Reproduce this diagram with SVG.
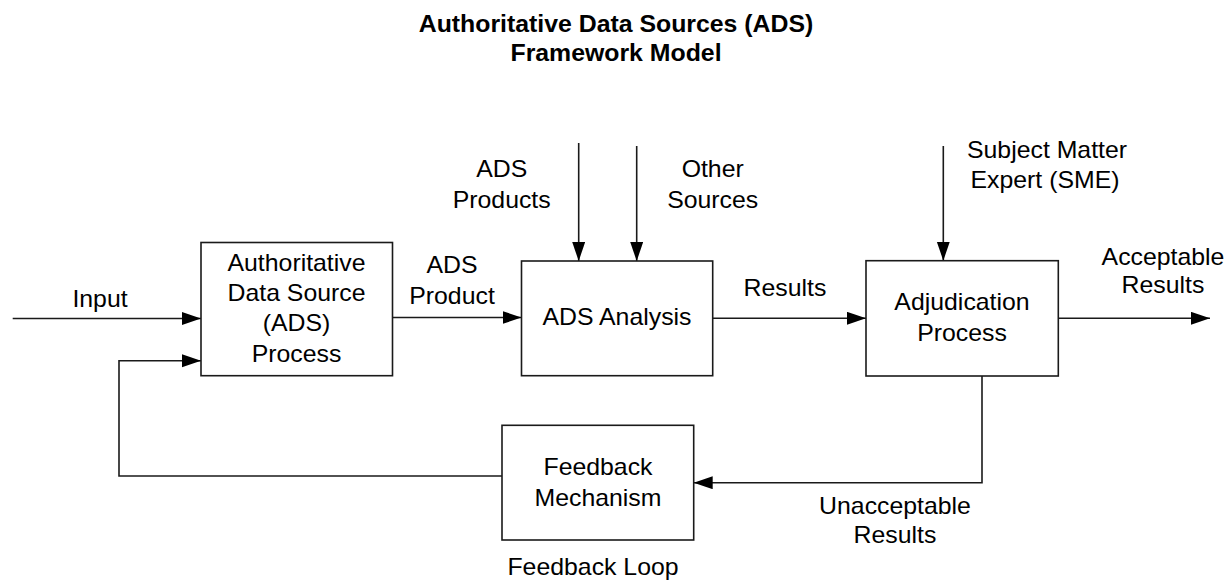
<svg xmlns="http://www.w3.org/2000/svg" width="1232" height="580" viewBox="0 0 1232 580">
  <style>
    .box { fill: #ffffff; stroke: #1a1a1a; stroke-width: 1.6; }
    .conn { fill: none; stroke: #1a1a1a; stroke-width: 1.6; }
    text { font-family: "Liberation Sans", Arial, sans-serif; font-size: 23px; fill: #000000; text-anchor: middle; }
    .title { font-weight: bold; }
  </style>
  <defs>
    <marker id="arrow" markerUnits="userSpaceOnUse" markerWidth="20" markerHeight="14" refX="19" refY="6.5" orient="auto">
      <path d="M0,0 L19,6.5 L0,13 Z" fill="#000000"/>
    </marker>
  </defs>
  <rect width="1232" height="580" fill="#ffffff"/>

  <g id="title">
    <text class="title" transform="translate(616,32) scale(1.08,1)" x="0" y="0">Authoritative Data Sources (ADS)</text>
    <text class="title" transform="translate(616,61) scale(1.08,1)" x="0" y="0">Framework Model</text>
  </g>

  <g id="connectors">
    <path class="conn" d="M12.7,318.5 H201" marker-end="url(#arrow)"/>
    <path class="conn" d="M502,476 H119 V360.7 H201" marker-end="url(#arrow)"/>
    <path class="conn" d="M392.5,317.5 H521.5" marker-end="url(#arrow)"/>
    <path class="conn" d="M578.7,143 V261" marker-end="url(#arrow)"/>
    <path class="conn" d="M636.7,146 V261" marker-end="url(#arrow)"/>
    <path class="conn" d="M712.7,318.3 H866" marker-end="url(#arrow)"/>
    <path class="conn" d="M943.3,146 V260.7" marker-end="url(#arrow)"/>
    <path class="conn" d="M1058.3,318.3 H1210" marker-end="url(#arrow)"/>
    <path class="conn" d="M982,376 V482.7 H693.7" marker-end="url(#arrow)"/>
  </g>

  <g id="connector-labels">
    <text transform="translate(100,306.7) scale(1.08,1)" x="0" y="0">Input</text>
    <text transform="translate(452,273) scale(1.08,1)" x="0" y="0">ADS</text>
    <text transform="translate(452,304) scale(1.08,1)" x="0" y="0">Product</text>
    <text transform="translate(501.7,176.7) scale(1.08,1)" x="0" y="0">ADS</text>
    <text transform="translate(501.7,208.3) scale(1.08,1)" x="0" y="0">Products</text>
    <text transform="translate(712.7,176.7) scale(1.08,1)" x="0" y="0">Other</text>
    <text transform="translate(712.7,208.3) scale(1.08,1)" x="0" y="0">Sources</text>
    <text transform="translate(785,296) scale(1.08,1)" x="0" y="0">Results</text>
    <text transform="translate(1047,158.3) scale(1.08,1)" x="0" y="0">Subject Matter</text>
    <text transform="translate(1045,188.3) scale(1.08,1)" x="0" y="0">Expert (SME)</text>
    <text transform="translate(1163,265) scale(1.08,1)" x="0" y="0">Acceptable</text>
    <text transform="translate(1163,293) scale(1.08,1)" x="0" y="0">Results</text>
    <text transform="translate(895,514) scale(1.08,1)" x="0" y="0">Unacceptable</text>
    <text transform="translate(895,543) scale(1.08,1)" x="0" y="0">Results</text>
    <text transform="translate(593,575) scale(1.08,1)" x="0" y="0">Feedback Loop</text>
  </g>

  <g id="ads-process">
    <rect class="box" x="201" y="242.5" width="191.5" height="133.2"/>
    <text transform="translate(296.5,271) scale(1.08,1)" x="0" y="0">Authoritative</text>
    <text transform="translate(296.5,301) scale(1.08,1)" x="0" y="0">Data Source</text>
    <text transform="translate(296.5,331) scale(1.08,1)" x="0" y="0">(ADS)</text>
    <text transform="translate(296.5,361.5) scale(1.08,1)" x="0" y="0">Process</text>
  </g>

  <g id="ads-analysis">
    <rect class="box" x="521.5" y="261" width="191.2" height="114.7"/>
    <text transform="translate(617,325) scale(1.08,1)" x="0" y="0">ADS Analysis</text>
  </g>

  <g id="adjudication-process">
    <rect class="box" x="866" y="260.7" width="192.3" height="115.3"/>
    <text transform="translate(962,310) scale(1.08,1)" x="0" y="0">Adjudication</text>
    <text transform="translate(962,340.7) scale(1.08,1)" x="0" y="0">Process</text>
  </g>

  <g id="feedback-mechanism">
    <rect class="box" x="502" y="425.3" width="191.7" height="114.7"/>
    <text transform="translate(598,475) scale(1.08,1)" x="0" y="0">Feedback</text>
    <text transform="translate(598,506) scale(1.08,1)" x="0" y="0">Mechanism</text>
  </g>
</svg>
